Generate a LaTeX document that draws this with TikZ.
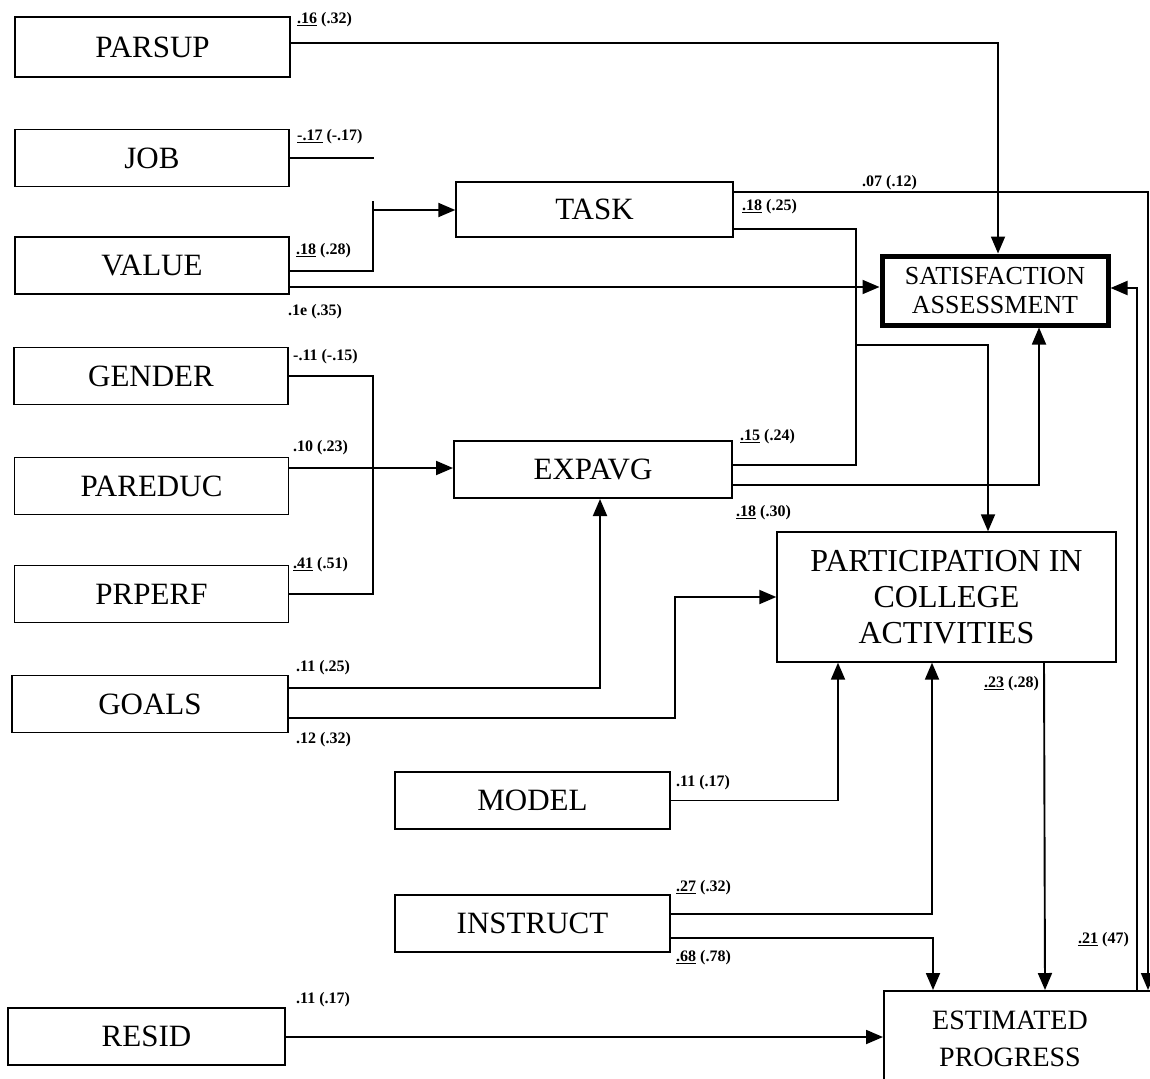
\documentclass[tikz,border=0pt]{standalone}
\usepackage{fontspec}
\setmainfont{Liberation Serif}
\usetikzlibrary{arrows.meta}
\pgfdeclarelayer{bg}
\pgfsetlayers{bg,main}
\tikzset{varbox/.style={draw, line width=1.4pt, minimum width=274pt, minimum height=57pt, inner sep=0pt, font=\fontsize{31}{35}\selectfont}}
\tikzset{heavybox/.style={varbox, line width=2pt}}
\tikzset{coef/.style={anchor=west, inner sep=0pt, font=\bfseries\fontsize{16}{18}\selectfont}}
\tikzset{link/.style={line width=1.9pt}}
\tikzset{arr/.style={link, -{Triangle[length=17pt, width=14pt]}}}

\begin{document}
\begin{tikzpicture}[x=1pt, y=-1pt]
    \useasboundingbox (0, 0) rectangle (1150, 1078);

    \node (parsup) at (152.5, 47) [heavybox, minimum width=275pt, minimum height=60pt] {PARSUP};
    \node (job) at (152, 158) [varbox] {JOB};
    \node (value) at (152, 265.5) [heavybox] {VALUE};
    \node (gender) at (151, 376) [varbox] {GENDER};
    \node (pareduc) at (151.5, 486) [varbox] {PAREDUC};
    \node (prperf) at (151.5, 594) [varbox] {PRPERF};
    \node (goals) at (150, 704) [varbox, minimum width=276pt] {GOALS};
    \node (model) at (532.5, 800.5) [varbox, minimum width=275pt] {MODEL};
    \node (instruct) at (532.5, 923.5) [varbox, minimum width=275pt] {INSTRUCT};
    \node (resid) at (146.5, 1036.5) [varbox, minimum width=277pt] {RESID};

    \node (task) at (594.5, 209.5) [varbox, minimum width=277pt, minimum height=55pt] {TASK};
    \node (expavg) at (593, 469.5) [heavybox, minimum width=278pt] {EXPAVG};

    \node (satis) at (995, 290.5) [draw, line width=5pt, minimum width=226pt, minimum height=69pt, align=center, font=\fontsize{26}{29}\selectfont] {SATISFACTION\\ASSESSMENT};
    \node (partic) at (946.5, 597) [varbox, minimum width=339pt, minimum height=130pt, align=center, font=\fontsize{32}{36}\selectfont] {PARTICIPATION IN\\COLLEGE\\ACTIVITIES};
    \node (estim) at (883, 990) [heavybox, anchor=north west, minimum width=320pt, minimum height=140pt] {};
    \node (estlab) at (1010, 1039) [align=center, font=\fontsize{28}{37}\selectfont] {ESTIMATED\\PROGRESS};

    % junctions
    \coordinate (jobend) at (374, 158);
    \coordinate (vt) at (373, 201);
    \coordinate (vtarr) at (373, 210);
    \coordinate (jg) at (373, 376);
    \coordinate (jp) at (856, 345);
    \coordinate (jgp) at (675, 597);
    \coordinate (rim) at (1148, 192);

    \begin{pgfonlayer}{bg}
        \draw [arr] ([yshift=4pt]parsup.east) -| ([xshift=3pt]satis.north);
        \draw [link] (job.east) -- (jobend);
        \draw [link] ([yshift=-5.5pt]value.east) -| (vt);
        \draw [arr] (vtarr) -- (vtarr -| task.west);
        \draw [arr] (value.east |- 0, 287) -- (satis.west |- 0, 287);

        \draw [arr] ([yshift=17.5pt]task.east) -- (rim) -- (rim |- estim.north);
        \draw [arr] ([yshift=-19.5pt]task.east) -| (jp) -| ([xshift=41.5pt]partic.north);
        \draw [link] ([yshift=4.5pt]expavg.east) -| (jp);
        \draw [arr] ([yshift=-15.5pt]expavg.east) -| ([xshift=44pt]satis.south);

        \draw [link] (gender.east) -- (jg) |- (prperf.east);
        \draw [arr] (pareduc.east |- 0, 468) -- (expavg.west |- 0, 468);
        \draw [arr] ([yshift=16pt]goals.east) -| ([xshift=7pt]expavg.south);
        \draw [arr] ([yshift=-14pt]goals.east) -| (jgp) -- (partic.west);

        \draw [arr] (model.east) -| ([xshift=-108.5pt]partic.south);
        \draw [arr] ([yshift=9.5pt]instruct.east) -| ([xshift=-14.5pt]partic.south);
        \draw [arr] ([yshift=-14.5pt]instruct.east) -| ([xshift=-111pt]estim.north);
        \draw [arr] ([xshift=97.5pt]partic.south) -- ([xshift=1pt]estim.north);
        \draw [arr] ([xshift=93pt]estim.north) |- ([yshift=2.5pt]satis.east);
        \draw [arr] (resid.east |- 0, 1037) -- (estim.west |- 0, 1037);
    \end{pgfonlayer}

    % path coefficients
    \node (c1) at (297, 20) [coef] {\underline{.16} (.32)};
    \node (c2) at (297, 137) [coef] {\underline{-.17} (-.17)};
    \node (c3) at (296, 251) [coef] {\underline{.18} (.28)};
    \node (c4) at (288, 312) [coef] {.1e (.35)};
    \node (c5) at (862, 183) [coef] {.07 (.12)};
    \node (c6) at (742, 207) [coef] {\underline{.18} (.25)};
    \node (c7) at (293, 357) [coef] {-.11 (-.15)};
    \node (c8) at (293, 448) [coef] {.10 (.23)};
    \node (c9) at (293, 565) [coef] {\underline{.41} (.51)};
    \node (c10) at (740, 437) [coef] {\underline{.15} (.24)};
    \node (c11) at (736, 513) [coef] {\underline{.18} (.30)};
    \node (c12) at (296, 668) [coef] {.11 (.25)};
    \node (c13) at (296, 740) [coef] {.12 (.32)};
    \node (c14) at (676, 783) [coef] {.11 (.17)};
    \node (c15) at (676, 888) [coef] {\underline{.27} (.32)};
    \node (c16) at (676, 958) [coef] {\underline{.68} (.78)};
    \node (c17) at (984, 684) [coef] {\underline{.23} (.28)};
    \node (c18) at (1078, 940) [coef] {\underline{.21} (47)};
    \node (c19) at (296, 1000) [coef] {.11 (.17)};
\end{tikzpicture}
\end{document}
